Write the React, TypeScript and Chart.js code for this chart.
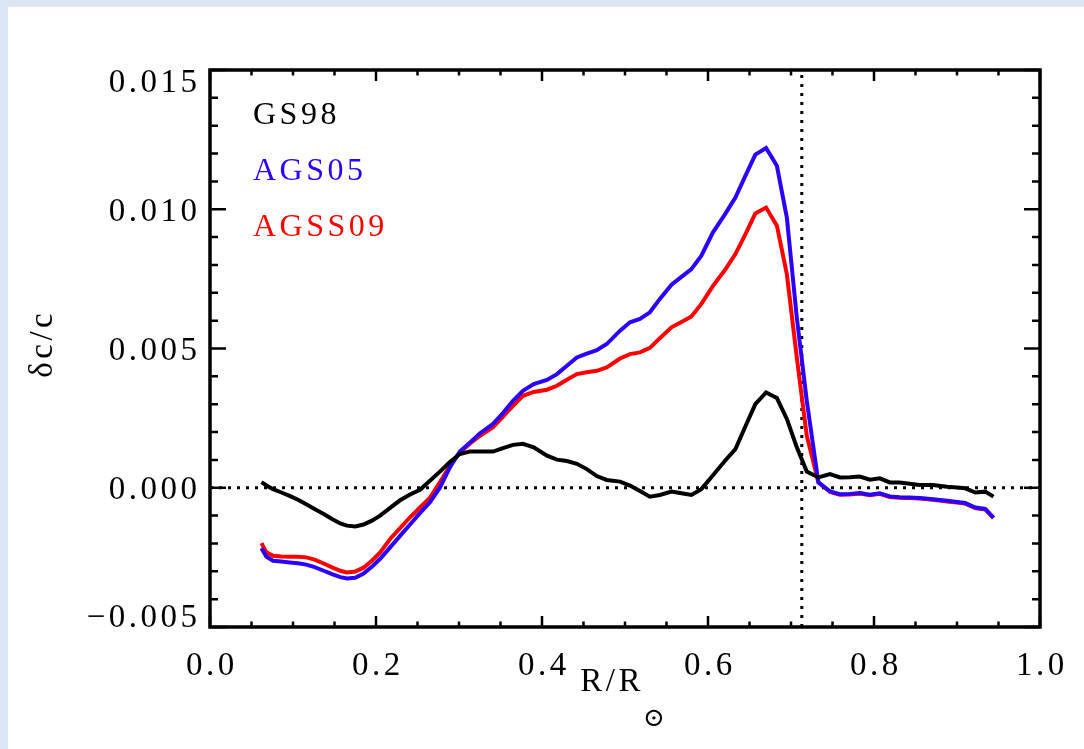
import React, { useEffect, useRef } from 'react';
import { Chart, registerables } from 'chart.js';

Chart.register(...registerables);

// ---------------- data ----------------
const radius = [
  0.062, 0.068, 0.076, 0.086, 0.096, 0.106, 0.116, 0.126, 0.137, 0.147,
  0.157, 0.165, 0.175, 0.185, 0.195, 0.205, 0.217, 0.229, 0.241, 0.253,
  0.265, 0.277, 0.289, 0.301, 0.313, 0.325, 0.341, 0.353, 0.365, 0.377,
  0.390, 0.406, 0.418, 0.430, 0.442, 0.454, 0.466, 0.478, 0.494, 0.506,
  0.518, 0.530, 0.542, 0.556, 0.568, 0.580, 0.592, 0.606, 0.620, 0.633,
  0.645, 0.657, 0.670, 0.683, 0.695, 0.707, 0.719, 0.733, 0.747, 0.759,
  0.771, 0.783, 0.795, 0.807, 0.819, 0.831, 0.843, 0.855, 0.871, 0.888,
  0.900, 0.910, 0.922, 0.934, 0.944,
];

const gs98 = [
  0.0002, 0.00008, -0.00005, -0.00017, -0.00029, -0.00043, -0.00059, -0.00076, -0.00094, -0.00112,
  -0.00128, -0.00136, -0.00139, -0.00132, -0.00118, -0.0010, -0.00072, -0.00045, -0.00024, -0.00007,
  0.00025, 0.00058, 0.00092, 0.00121, 0.0013, 0.0013, 0.0013, 0.00142, 0.00154, 0.00158,
  0.00145, 0.00115, 0.00101, 0.00096, 0.00086, 0.00067, 0.00042, 0.00028, 0.00022, 0.00008,
  -0.00012, -0.00032, -0.00026, -0.00014, -0.0002, -0.00026, -0.00005, 0.00045, 0.00095, 0.00139,
  0.0022, 0.0030, 0.00342, 0.00322, 0.00247, 0.00145, 0.00058, 0.00037, 0.00049, 0.00037,
  0.00038, 0.0004, 0.00029, 0.00034, 0.00019, 0.00019, 0.00014, 0.0001, 0.0001, 0.00004,
  0.00001, -0.00002, -0.00017, -0.00014, -0.00032,
];

const ags05 = [
  -0.00217, -0.00248, -0.00262, -0.00265, -0.00268, -0.00271, -0.00276, -0.00285, -0.00298, -0.0031,
  -0.00321, -0.00326, -0.00323, -0.00308, -0.00284, -0.00255, -0.00214, -0.00173, -0.00132, -0.00091,
  -0.00052, 0.0, 0.00073, 0.0013, 0.00162, 0.00195, 0.00229, 0.00268, 0.00312, 0.00348,
  0.00372, 0.00387, 0.00408, 0.00438, 0.00468, 0.00482, 0.00494, 0.00516, 0.00564, 0.00594,
  0.00606, 0.0063, 0.00678, 0.00729, 0.00757, 0.00785, 0.00833, 0.00917, 0.0098, 0.01042,
  0.0112, 0.01196, 0.0122, 0.01156, 0.0097, 0.00611, 0.00312, 0.00019, -0.00013, -0.00023,
  -0.00022, -0.00019, -0.00025, -0.0002, -0.00031, -0.00034, -0.00035, -0.00037, -0.00041, -0.00047,
  -0.00051, -0.00055, -0.00071, -0.00076, -0.00107,
];

const agss09 = [
  -0.00199, -0.00232, -0.00244, -0.00247, -0.00248, -0.00248, -0.0025, -0.00258, -0.00272, -0.00286,
  -0.00298, -0.00304, -0.00301, -0.00287, -0.00262, -0.00232, -0.00184, -0.00145, -0.00106, -0.00071,
  -0.00036, 0.0002, 0.00079, 0.00127, 0.00158, 0.00186, 0.00217, 0.00255, 0.00294, 0.0033,
  0.00344, 0.00352, 0.00366, 0.00388, 0.00408, 0.00415, 0.0042, 0.00432, 0.00464, 0.0048,
  0.00486, 0.00502, 0.00537, 0.00576, 0.00595, 0.00615, 0.0066, 0.00725, 0.0078, 0.00839,
  0.0091, 0.00985, 0.01006, 0.00941, 0.00767, 0.00468, 0.00187, 0.00019, -0.00015, -0.00025,
  -0.00024, -0.00021, -0.00027, -0.00022, -0.00033, -0.00036, -0.00037, -0.00039, -0.00043, -0.00049,
  -0.00053, -0.00057, -0.00073, -0.00078, -0.00109,
];

const seriesLabels = ['GS98', 'AGS05', 'AGSS09'];
const seriesColors = ['#000000', '#2a00ff', '#ff0000'];

const xMajorTicks = [0.0, 0.2, 0.4, 0.6, 0.8, 1.0];
const xTickLabels = ['0.0', '0.2', '0.4', '0.6', '0.8', '1.0'];
const yMajorTicks = [-0.005, 0.0, 0.005, 0.010, 0.015];
const yTickLabels = ['\u22120.005', '0.000', '0.005', '0.010', '0.015'];
const xMinorStep = 0.05;
const yMinorStep = 0.001;
const convectionZoneBase = 0.713;

const xTitle = 'R/R';
const xTitleSub = '\u2299';
const yTitle = '\u03B4c/c';

// ---------------- styling ----------------
const FONT_FAMILY = '"Liberation Serif", "DejaVu Serif", serif';
const FONT_SIZE = 33;
const LETTER_SPACING = 3.5;

const idlPlugin = {
  id: 'idlFrame',
  beforeDraw(chart: any) {
    const { ctx, width, height } = chart;
    ctx.save();
    ctx.fillStyle = '#dbe7f4';
    ctx.fillRect(0, 0, width, height);
    ctx.fillStyle = '#ffffff';
    ctx.fillRect(8, 7, width - 8, height - 7);
    ctx.restore();
  },
  beforeDatasetsDraw(chart: any) {
    const { ctx, chartArea } = chart;
    const xs = chart.scales.x;
    const ys = chart.scales.y;
    ctx.save();
    ctx.strokeStyle = '#000';
    ctx.lineWidth = 3;
    ctx.setLineDash([3, 6]);
    ctx.lineCap = 'butt';
    const y0 = ys.getPixelForValue(0);
    ctx.beginPath();
    ctx.moveTo(chartArea.left, y0);
    ctx.lineTo(chartArea.right, y0);
    ctx.stroke();
    const xc = xs.getPixelForValue(convectionZoneBase);
    ctx.beginPath();
    ctx.moveTo(xc, chartArea.bottom);
    ctx.lineTo(xc, chartArea.top);
    ctx.stroke();
    ctx.restore();
  },
  afterDatasetsDraw(chart: any) {
    const { ctx, chartArea } = chart;
    const { left, right, top, bottom } = chartArea;
    const xs = chart.scales.x;
    const ys = chart.scales.y;
    ctx.save();
    // frame
    ctx.strokeStyle = '#000';
    ctx.lineWidth = 3.5;
    ctx.setLineDash([]);
    ctx.lineCap = 'square';
    ctx.strokeRect(left, top, right - left, bottom - top);

    // ticks
    ctx.lineWidth = 2.5;
    ctx.lineCap = 'butt';
    const xMajLen = 11, xMinLen = 5.5, yMajLen = 16, yMinLen = 8;
    const nx = Math.round((xs.max - xs.min) / xMinorStep);
    for (let i = 0; i <= nx; i++) {
      const v = xs.min + i * xMinorStep;
      const isMajor = xMajorTicks.some((t) => Math.abs(t - v) < 1e-9);
      const px = xs.getPixelForValue(v);
      const len = isMajor ? xMajLen : xMinLen;
      ctx.beginPath();
      ctx.moveTo(px, bottom);
      ctx.lineTo(px, bottom - len);
      ctx.moveTo(px, top);
      ctx.lineTo(px, top + len);
      ctx.stroke();
    }
    const ny = Math.round((ys.max - ys.min) / yMinorStep);
    for (let i = 0; i <= ny; i++) {
      const v = ys.min + i * yMinorStep;
      const isMajor = yMajorTicks.some((t) => Math.abs(t - v) < 1e-9);
      const py = ys.getPixelForValue(v);
      const len = isMajor ? yMajLen : yMinLen;
      ctx.beginPath();
      ctx.moveTo(left, py);
      ctx.lineTo(left + len, py);
      ctx.moveTo(right, py);
      ctx.lineTo(right - len, py);
      ctx.stroke();
    }

    // tick labels
    ctx.fillStyle = '#000';
    ctx.font = `${FONT_SIZE}px ${FONT_FAMILY}`;
    (ctx as any).letterSpacing = `${LETTER_SPACING}px`;
    const digitH = 22.5;
    ctx.textBaseline = 'alphabetic';
    ctx.textAlign = 'center';
    xMajorTicks.forEach((v, i) => {
      const px = xs.getPixelForValue(v);
      ctx.fillText(xTickLabels[i], px + LETTER_SPACING / 2, bottom + 48);
    });
    ctx.textAlign = 'right';
    yMajorTicks.forEach((v, i) => {
      const py = ys.getPixelForValue(v);
      let base = py + digitH / 2;
      if (base - digitH < top - 1) base = top - 1 + digitH;
      if (base > bottom) base = bottom;
      ctx.fillText(yTickLabels[i], left - 13 + LETTER_SPACING, base);
    });

    // legend
    ctx.font = `32px ${FONT_FAMILY}`;
    ctx.textAlign = 'left';
    chart.data.datasets.forEach((ds: any, i: number) => {
      ctx.fillStyle = ds.borderColor;
      ctx.fillText(ds.label, left + 43, top + 54 + i * 56);
    });

    // x title
    ctx.fillStyle = '#000';
    ctx.textAlign = 'left';
    ctx.font = `${FONT_SIZE}px ${FONT_FAMILY}`;
    const midX = (left + right) / 2;
    const mainW = ctx.measureText(xTitle).width;
    ctx.font = `26px ${FONT_FAMILY}`;
    (ctx as any).letterSpacing = '0px';
    const subW = ctx.measureText(xTitleSub).width;
    const startX = midX - (mainW + subW) / 2 - 2;
    ctx.font = `${FONT_SIZE}px ${FONT_FAMILY}`;
    (ctx as any).letterSpacing = `${LETTER_SPACING}px`;
    ctx.fillText(xTitle, startX, bottom + 64);
    ctx.font = `26px ${FONT_FAMILY}`;
    (ctx as any).letterSpacing = '0px';
    ctx.fillText(xTitleSub, startX + mainW - 1, bottom + 99);

    // y title
    ctx.font = `${FONT_SIZE}px ${FONT_FAMILY}`;
    (ctx as any).letterSpacing = `${LETTER_SPACING}px`;
    ctx.translate(52, (top + bottom) / 2 - 3);
    ctx.rotate(-Math.PI / 2);
    ctx.textAlign = 'center';
    ctx.fillText(yTitle, LETTER_SPACING / 2, 0);
    ctx.restore();
  },
};

export default function App() {
  const canvasRef = useRef<HTMLCanvasElement | null>(null);

  useEffect(() => {
    document.body.style.margin = '0';
    const canvas = canvasRef.current;
    if (!canvas) return;
    const series = [gs98, ags05, agss09];
    const chart = new Chart(canvas, {
      type: 'line',
      data: {
        datasets: series.map((vals, i) => ({
          label: seriesLabels[i],
          data: radius.map((r, j) => ({ x: r, y: vals[j] })),
          borderColor: seriesColors[i],
          backgroundColor: seriesColors[i],
          borderWidth: 4,
          pointRadius: 0,
          tension: 0,
          fill: false,
        })),
      },
      options: {
        responsive: false,
        animation: false,
        events: [],
        layout: { padding: { top: 70, right: 44, bottom: 0, left: 0 } },
        plugins: {
          legend: { display: false },
          tooltip: { enabled: false },
          title: { display: false },
        },
        scales: {
          x: {
            type: 'linear',
            min: 0,
            max: 1,
            grid: { display: false },
            border: { display: false },
            ticks: { display: false, stepSize: 0.2 },
            afterFit: (s: any) => {
              s.height = 122;
            },
          },
          y: {
            type: 'linear',
            min: -0.005,
            max: 0.015,
            grid: { display: false },
            border: { display: false },
            ticks: { display: false, stepSize: 0.005 },
            afterFit: (s: any) => {
              s.width = 210;
            },
          },
        },
      },
      plugins: [idlPlugin],
    });
    return () => chart.destroy();
  }, []);

  return (
    <div style={{ position: 'fixed', left: 0, top: 0, width: 1084, height: 749 }}>
      <canvas ref={canvasRef} width={1084} height={749} style={{ display: 'block' }} />
    </div>
  );
}
